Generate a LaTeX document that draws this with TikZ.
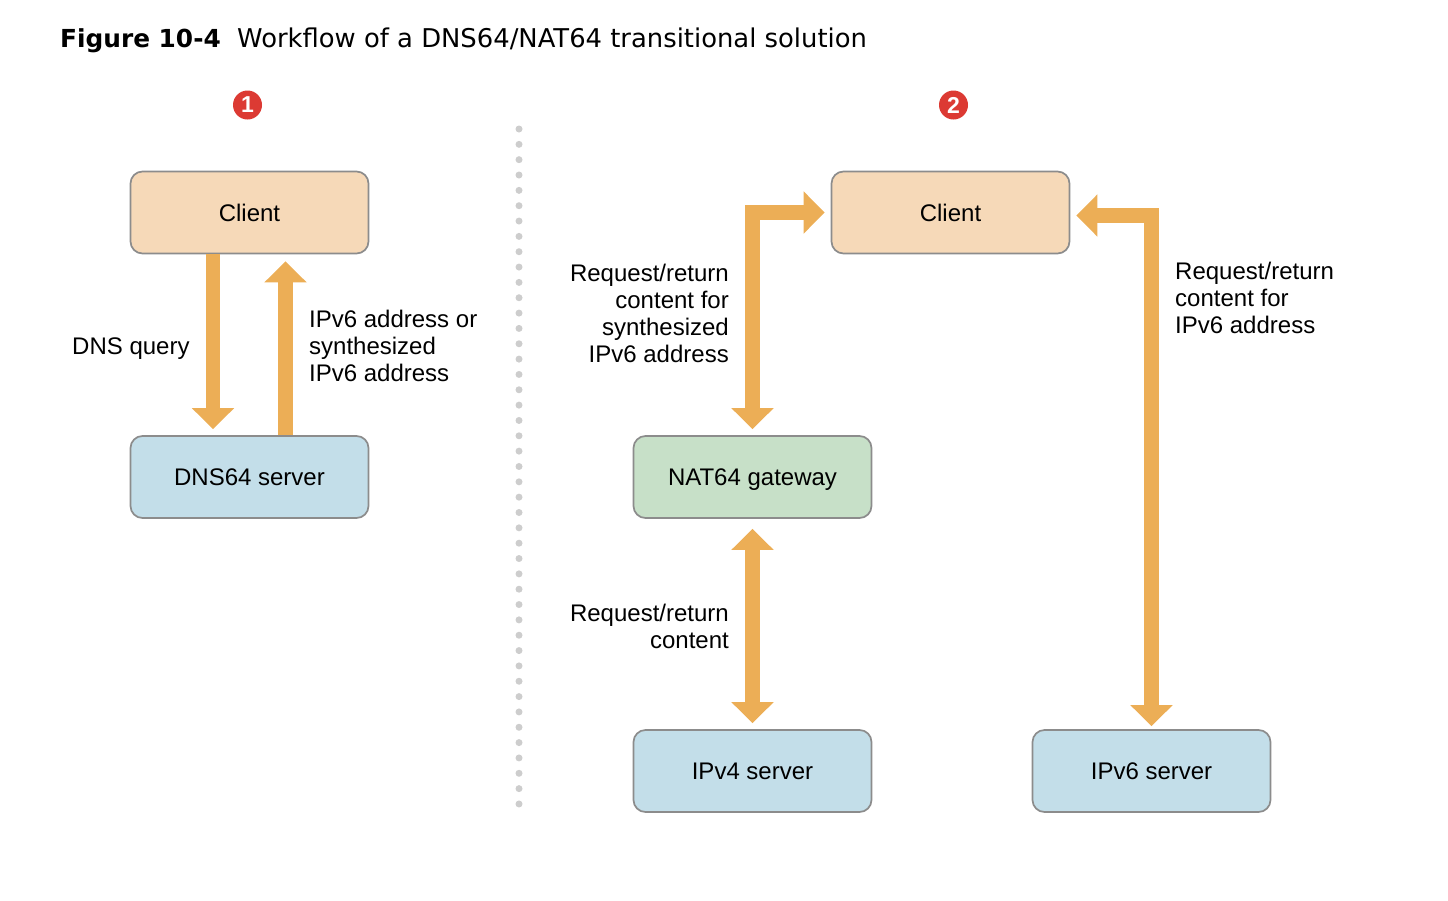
\documentclass[tikz,border=0pt]{standalone}
\usepackage{fontspec}
\setmainfont{Liberation Sans}
\newfontfamily\titlefont{DejaVu Sans}
\usetikzlibrary{arrows.meta}
\definecolor{peach}{HTML}{F6D9B8}
\definecolor{paleblue}{HTML}{C3DEE9}
\definecolor{palegreen}{HTML}{C7E0C8}
\definecolor{flowc}{HTML}{ECAE56}
\definecolor{edgec}{HTML}{8C8C8C}
\definecolor{badgec}{HTML}{DC3A33}
\definecolor{dotc}{HTML}{CDCDCD}
\tikzset{
  x=1pt,y=-1pt,
  boxbase/.style={draw=edgec,line width=1.7pt,rounded corners=12pt,minimum width=238pt,minimum height=82pt,inner sep=0pt,text height=17pt,text depth=0pt,font=\fontsize{24}{27}\selectfont,text=black},
  clientbox/.style={boxbase,fill=peach},
  serverbox/.style={boxbase,fill=paleblue},
  gatebox/.style={boxbase,fill=palegreen},
  flow/.style={draw=flowc,line width=14.5pt,line join=miter,-{Triangle[length=21pt,width=41pt,fill=flowc]}},
  flowboth/.style={draw=flowc,line width=14.5pt,line join=miter,{Triangle[length=21pt,width=41pt,fill=flowc]}-{Triangle[length=21pt,width=41pt,fill=flowc]}},
  lbl/.style={inner sep=0pt,font=\fontsize{24}{27}\selectfont,text=black},
  badge/.style={circle,fill=badgec,minimum size=29pt,inner sep=0pt,text=white,font=\fontsize{23}{23}\selectfont\bfseries},
  ttl/.style={inner sep=0pt,anchor=base west,text=black},
}
\begin{document}
\begin{tikzpicture}
\useasboundingbox (0,0) rectangle (1448,900);
\node[ttl,font=\titlefont\fontsize{24.8}{30}\selectfont\bfseries] (tnum) at (60,47) {Figure 10-4};
\node[ttl,font=\titlefont\fontsize{25.84}{30}\selectfont] (ttext) at (237,47) {Workflow of a DNS64/NAT64 transitional solution};
\node[badge] (b1) at (247.5,105) {1};
\node[badge] (b2) at (953.5,105) {2};
\coordinate (dtop) at (519,129);
\coordinate (dbot) at (519,804);
\draw[dotc,line width=7pt,line cap=round,dash pattern=on 0pt off 15.34pt] (dtop) -- (dbot);
\node[clientbox] (c1) at (249.5,212.5) {Client};
\node[serverbox] (dns) at (249.5,477) {DNS64 server};
\node[clientbox] (c2) at (950.5,212.5) {Client};
\node[gatebox] (nat) at (752.5,477) {NAT64 gateway};
\node[serverbox] (v4) at (752.5,771) {IPv4 server};
\node[serverbox] (v6) at (1151.5,771) {IPv6 server};
\draw[flow] ([xshift=-36.5pt]c1.south) -- ([xshift=-36.5pt,yshift=6pt]dns.north);
\draw[flow] ([xshift=36pt]dns.north) -- ([xshift=36pt,yshift=-7pt]c1.south);
\draw[flowboth] ([yshift=6pt]nat.north) |- ([xshift=-6pt]c2.west);
\draw[flowboth] ([yshift=-10pt]nat.south) -- ([yshift=6pt]v4.north);
\draw[flowboth] ([xshift=6pt,yshift=-3pt]c2.east) -| ([yshift=3pt]v6.north);
\node[lbl,anchor=west,text height=17pt,text depth=0pt] (l1) at (72,346) {DNS query};
\node[lbl,anchor=west,align=left] (l2) at (309,346) {IPv6 address or\\synthesized\\IPv6 address};
\node[lbl,anchor=east,align=right] (l3) at (729,313.5) {Request/return\\content for\\synthesized\\IPv6 address};
\node[lbl,anchor=east,align=right] (l4) at (729,626) {Request/return\\content};
\node[lbl,anchor=west,align=left] (l5) at (1175,297.5) {Request/return\\content for\\IPv6 address};
\end{tikzpicture}
\end{document}
